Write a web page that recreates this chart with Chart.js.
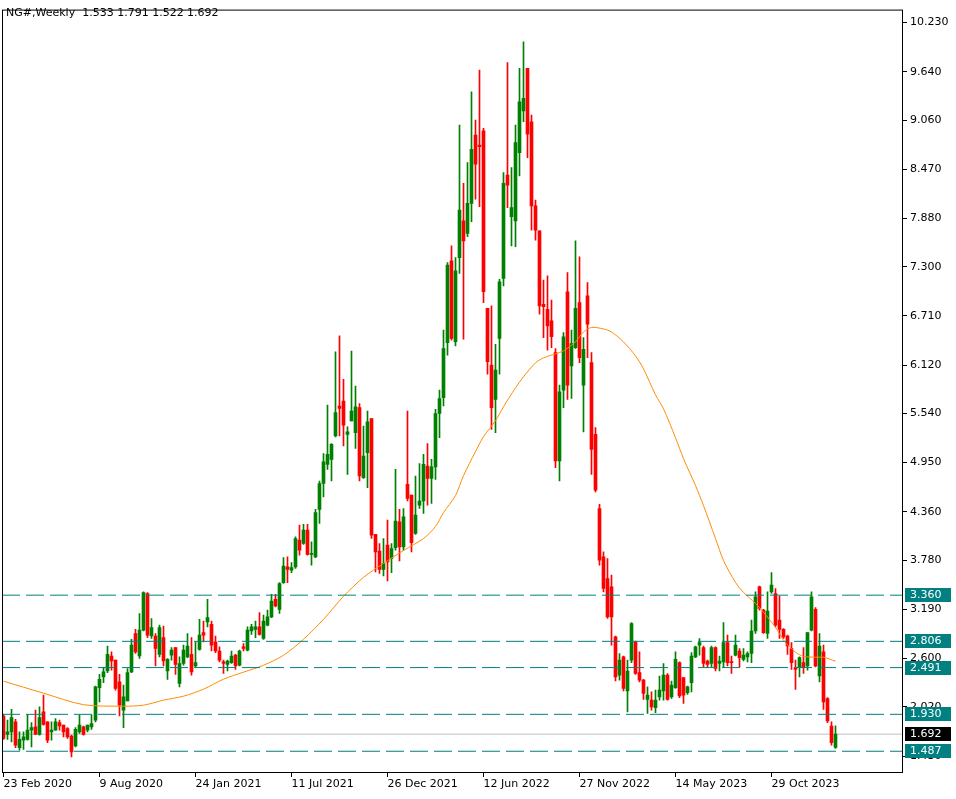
<!DOCTYPE html>
<html>
<head>
<meta charset="utf-8">
<script src="https://cdn.jsdelivr.net/npm/chart.js@4.4.1/dist/chart.umd.min.js"></script>
<style>
  html, body { margin: 0; padding: 0; background: #fff; }
</style>
</head>
<body>
<canvas id="chart" width="956" height="799"></canvas>
<script>
// weekly candles, 23 Feb 2020 .. 18 Feb 2024 (one per week)
const opens = [
  1.91,1.69,1.72,1.84,1.53,1.62,1.63,1.74,1.78,1.69,
  1.96,1.84,1.72,1.74,1.83,1.80,1.76,1.67,1.55,1.72,
  1.78,1.74,1.78,1.86,2.25,2.38,2.45,2.63,2.58,2.32,
  1.98,2.09,2.44,2.90,2.63,2.94,3.38,2.87,2.87,2.65,
  2.85,2.45,2.64,2.73,2.30,2.54,2.62,2.65,2.51,2.71,
  2.91,3.04,3.01,2.80,2.69,2.56,2.53,2.55,2.64,2.52,
  2.74,2.70,2.93,2.95,2.98,2.84,3.00,3.10,3.31,3.19,
  3.51,3.70,3.66,3.70,4.02,3.98,4.14,3.85,3.82,4.39,
  4.70,4.93,4.99,5.27,5.63,5.69,5.29,5.45,5.31,5.61,
  4.77,5.07,5.48,4.09,3.89,3.67,3.96,3.80,3.93,4.24,
  3.94,4.69,4.56,4.10,4.44,4.49,4.91,4.76,4.90,5.54,
  5.73,6.39,7.37,6.40,7.41,7.85,7.70,8.06,8.88,8.76,
  8.93,6.80,6.12,5.71,6.44,7.16,8.40,7.90,7.85,8.67,
  9.17,9.68,9.04,8.03,7.73,6.85,6.79,6.65,6.27,4.97,
  5.82,7.00,6.11,6.33,6.87,5.88,6.95,6.15,5.29,4.40,
  3.82,3.56,3.46,2.86,2.40,2.62,2.21,2.58,2.80,2.43,
  2.34,2.11,2.10,2.01,2.14,2.21,2.40,2.14,2.25,2.55,
  2.37,2.19,2.31,2.62,2.76,2.73,2.57,2.54,2.73,2.54,
  2.56,2.79,2.56,2.64,2.69,2.59,2.62,2.66,2.93,3.46,
  3.18,2.90,3.40,3.38,3.06,2.95,2.87,2.72,2.49,2.49,
  2.55,2.51,2.94,3.19,2.39,2.68,2.12,1.79,1.533
];
const highs = [
  1.93,1.86,1.99,1.87,1.72,1.72,1.93,1.83,1.98,2.02,
  2.16,1.84,1.84,1.88,1.86,1.80,1.77,1.68,1.77,1.92,
  1.79,1.80,1.92,2.27,2.41,2.49,2.75,2.68,2.58,2.41,
  2.28,2.48,2.83,2.95,3.14,3.40,3.39,3.08,2.90,3.00,
  2.99,2.60,2.73,2.73,2.62,2.76,2.90,2.85,2.80,3.07,
  3.05,3.31,3.05,2.87,2.74,2.58,2.58,2.69,2.65,2.70,
  2.78,2.98,3.01,3.05,3.15,3.12,3.18,3.37,3.37,3.51,
  3.81,3.82,3.75,4.06,4.20,4.21,4.21,4.00,4.39,4.73,
  5.06,5.64,5.18,6.28,6.47,5.95,5.38,6.29,5.87,5.66,
  5.39,5.57,5.48,4.09,3.98,4.04,4.26,3.98,4.87,4.39,
  4.40,5.57,4.56,4.79,4.94,5.05,5.18,4.99,5.59,5.82,
  6.54,7.35,7.55,7.41,9.00,8.30,8.55,9.40,9.06,9.66,
  8.96,6.80,6.83,6.37,7.15,8.43,9.75,8.49,9.00,9.68,
  10.00,9.68,9.12,8.10,7.73,7.14,7.19,6.90,6.32,5.88,
  6.51,7.23,6.54,7.61,7.42,6.45,7.11,6.27,5.37,4.45,
  3.88,3.80,3.60,2.87,2.66,2.63,2.58,3.03,2.81,2.68,
  2.35,2.26,2.20,2.22,2.39,2.54,2.42,2.33,2.68,2.56,
  2.37,2.27,2.67,2.75,2.84,2.75,2.58,2.75,2.74,2.63,
  3.03,2.88,2.63,2.88,2.72,2.72,2.68,3.06,3.40,3.47,
  3.19,3.40,3.63,3.44,3.35,2.96,2.88,2.79,2.58,2.62,
  2.73,2.91,3.40,3.21,2.90,2.76,2.13,1.84,1.791
];
const lows = [
  1.63,1.63,1.60,1.53,1.50,1.51,1.62,1.54,1.69,1.68,
  1.80,1.59,1.62,1.74,1.74,1.66,1.64,1.42,1.54,1.70,
  1.68,1.72,1.75,1.84,2.08,2.31,2.43,2.46,2.22,1.91,
  1.77,2.09,2.43,2.66,2.60,2.93,2.85,2.84,2.51,2.62,
  2.51,2.35,2.58,2.41,2.26,2.52,2.61,2.40,2.50,2.70,
  2.80,2.98,2.69,2.67,2.56,2.42,2.45,2.54,2.47,2.51,
  2.69,2.69,2.89,2.85,2.88,2.83,2.99,3.09,3.22,3.14,
  3.50,3.51,3.63,3.68,3.84,3.97,3.84,3.72,3.81,4.22,
  4.54,4.87,4.73,5.26,5.27,5.15,4.81,5.45,5.12,4.73,
  4.76,4.65,4.04,3.64,3.62,3.59,3.53,3.63,3.90,3.77,
  3.90,4.49,3.88,4.09,4.40,4.34,4.44,4.46,4.75,5.25,
  5.63,6.24,6.42,6.35,7.22,6.43,7.66,7.84,8.11,8.02,
  6.87,6.01,5.35,5.31,6.01,7.07,8.01,7.55,7.54,8.39,
  9.04,8.61,7.74,7.62,6.73,6.45,6.30,6.33,4.89,4.73,
  5.61,5.71,5.72,6.32,6.15,5.32,6.21,4.81,4.60,3.72,
  3.40,3.08,2.76,2.33,2.34,2.21,1.96,2.55,2.41,2.32,
  2.11,1.94,1.98,1.95,2.10,2.10,2.10,2.12,2.24,2.13,
  2.06,2.17,2.20,2.61,2.64,2.50,2.49,2.50,2.45,2.45,
  2.49,2.51,2.42,2.63,2.50,2.57,2.56,2.55,2.90,3.18,
  2.90,2.84,3.38,2.98,2.84,2.84,2.65,2.47,2.23,2.38,
  2.42,2.46,2.93,2.50,2.32,1.99,1.83,1.56,1.522
];
const closes = [
  1.64,1.72,1.89,1.56,1.63,1.66,1.74,1.77,1.69,1.89,
  1.81,1.62,1.74,1.84,1.79,1.72,1.66,1.48,1.75,1.80,
  1.69,1.80,1.82,2.26,2.35,2.44,2.65,2.57,2.24,2.04,
  2.14,2.43,2.76,2.68,2.94,3.39,2.88,2.97,2.72,2.97,
  2.57,2.59,2.70,2.53,2.54,2.70,2.75,2.44,2.55,2.88,
  2.88,3.09,2.76,2.69,2.58,2.54,2.57,2.63,2.51,2.69,
  2.72,2.94,2.98,2.98,2.89,3.05,3.10,3.29,3.23,3.50,
  3.71,3.67,3.69,4.04,3.90,4.14,3.85,3.86,4.35,4.70,
  4.96,5.05,5.17,5.55,5.60,5.40,5.32,5.57,5.62,4.79,
  5.03,5.44,4.08,3.88,3.67,3.74,3.76,3.92,4.25,3.94,
  4.30,4.52,3.99,4.32,4.49,4.93,4.76,4.90,5.54,5.72,
  6.32,7.32,6.44,7.25,7.98,7.61,8.06,8.71,8.53,8.74,
  7.00,6.16,5.61,6.06,7.12,8.30,8.28,8.01,8.79,9.28,
  9.32,8.89,8.03,7.74,6.83,6.82,6.59,6.46,4.97,5.80,
  6.46,5.88,6.38,6.80,6.21,6.31,6.61,5.11,4.62,3.78,
  3.44,3.10,3.10,2.38,2.58,2.24,2.45,3.02,2.42,2.34,
  2.18,2.16,2.02,2.10,2.22,2.40,2.11,2.28,2.59,2.15,
  2.16,2.26,2.63,2.74,2.79,2.54,2.53,2.73,2.48,2.57,
  2.79,2.55,2.55,2.76,2.61,2.64,2.66,2.93,3.34,3.20,
  2.91,3.17,3.48,3.00,2.95,2.86,2.75,2.55,2.47,2.61,
  2.49,2.91,3.34,2.51,2.75,2.08,1.85,1.59,1.692
];

// moving average (bar index -> price)
const maIdx = [0,10,20,30,35,40,45,50,55,60,65,70,75,80,85,90,95,100,105,108,
  110,113,115,118,120,123,125,128,130,133,135,138,140,143,145,147,150,152,155,158,
  160,163,165,168,170,173,175,178,180,183,185,188,190,193,195,198,200,203,205,208];
const maVal = [2.328,2.184,2.046,2.028,2.040,2.100,2.148,2.232,2.352,2.436,
  2.519,2.639,2.831,3.070,3.346,3.573,3.741,3.896,4.040,4.184,
  4.351,4.555,4.794,5.082,5.261,5.453,5.620,5.848,5.980,6.147,
  6.207,6.255,6.291,6.399,6.518,6.572,6.554,6.518,6.399,6.231,
  6.075,5.764,5.596,5.249,4.998,4.675,4.435,4.040,3.777,3.513,
  3.393,3.262,3.154,2.974,2.819,2.675,2.627,2.615,2.615,2.567];

const levels = [3.360, 2.806, 2.491, 1.930, 1.487];
const bid = 1.692;

const yTicks = [10.230, 9.640, 9.060, 8.470, 7.880, 7.300, 6.710, 6.120, 5.540,
  4.950, 4.360, 3.780, 3.190, 2.600, 2.020, 1.430];
const xTickIdx = [0, 24, 48, 72, 96, 120, 144, 168, 192];
const xTickLabels = ["23 Feb 2020", "9 Aug 2020", "24 Jan 2021", "11 Jul 2021",
  "26 Dec 2021", "12 Jun 2022", "27 Nov 2022", "14 May 2023", "29 Oct 2023"];

const header = "NG#,Weekly  1.533 1.791 1.522 1.692";

const BULL = "#008000";
const BEAR = "#ff0000";
const TEAL = "#008080";
const FONT = { family: "DejaVu Sans", size: 11 };

const candleColors = closes.map((c, i) => (c >= opens[i] ? BULL : BEAR));

const X_MIN = -0.375, X_MAX = 224.875;

const levelSets = levels.map((v) => ({
  type: "line",
  data: [{ x: X_MIN, y: v }, { x: X_MAX, y: v }],
  borderColor: TEAL,
  borderWidth: 1,
  borderDash: [18, 6],
  pointRadius: 0,
  order: 0,
}));

const frame = {
  id: "frame",
  afterDatasetsDraw(chart) {
    const { ctx, chartArea: a } = chart;
    ctx.save();
    ctx.strokeStyle = "#000";
    ctx.lineWidth = 1;
    ctx.strokeRect(a.left + 0.5, a.top + 0.5, a.right - a.left - 1, a.bottom - a.top - 1);
    ctx.restore();
  },
  afterDraw(chart) {
    const { ctx } = chart;
    const y = chart.scales.y;
    ctx.save();
    ctx.font = "11px 'DejaVu Sans'";
    ctx.textBaseline = "middle";
    ctx.fillStyle = "#000";
    ctx.fillText(header, 6, 13);

    const box = (v, bg) => {
      const py = Math.round(y.getPixelForValue(v));
      ctx.fillStyle = bg;
      ctx.fillRect(905, py - 7, 46, 14);
      ctx.fillStyle = "#fff";
      ctx.fillText(v.toFixed(3), 910, py + 0.5);
    };
    levels.forEach((v) => box(v, TEAL));
    box(bid, "#000");
    ctx.restore();
  },
};

new Chart(document.getElementById("chart"), {
  type: "bar",
  data: {
    datasets: [
      ...levelSets,
      {
        type: "line",
        data: maIdx.map((x, i) => ({ x, y: maVal[i] })),
        borderColor: "#ff8c00",
        borderWidth: 1,
        pointRadius: 0,
        tension: 0.3,
        order: 1,
      },
      {
        data: opens.map((o, i) => ({ x: i, y: [o, closes[i]] })),
        backgroundColor: candleColors,
        barThickness: 3,
        minBarLength: 1,
        grouped: false,
        order: 2,
      },
      {
        data: lows.map((l, i) => ({ x: i, y: [l, highs[i]] })),
        backgroundColor: candleColors,
        barThickness: 1,
        grouped: false,
        order: 3,
      },
      {
        type: "line",
        data: [{ x: X_MIN, y: bid }, { x: X_MAX, y: bid }],
        borderColor: "#c0c0c0",
        borderWidth: 1,
        pointRadius: 0,
        order: 4,
      },
    ],
  },
  options: {
    responsive: false,
    animation: false,
    devicePixelRatio: 1,
    layout: { padding: { left: 2, top: 8, right: 0, bottom: 0 } },
    plugins: { legend: { display: false }, tooltip: { enabled: false } },
    scales: {
      x: {
        type: "linear",
        min: X_MIN,
        max: X_MAX,
        offset: false,
        grid: { drawOnChartArea: false, tickLength: 4, color: "#000", offset: false },
        border: { display: false },
        ticks: {
          autoSkip: false,
          maxRotation: 0,
          align: "start",
          padding: 1,
          color: "#000",
          font: FONT,
          callback: (v) => xTickLabels[xTickIdx.indexOf(v)],
        },
        afterBuildTicks: (s) => { s.ticks = xTickIdx.map((v) => ({ value: v })); },
        afterFit: (s) => { s.height = 26; },
      },
      y: {
        position: "right",
        min: 1.2262,
        max: 10.3857,
        grid: { drawOnChartArea: false, tickLength: 4, color: "#000" },
        border: { display: false },
        ticks: {
          autoSkip: false,
          padding: 3,
          color: "#000",
          font: FONT,
          callback: (v) => v.toFixed(3),
        },
        afterBuildTicks: (s) => { s.ticks = yTicks.map((v) => ({ value: v })); },
        afterFit: (s) => { s.width = 53; },
      },
    },
  },
  plugins: [frame],
});
</script>
</body>
</html>
